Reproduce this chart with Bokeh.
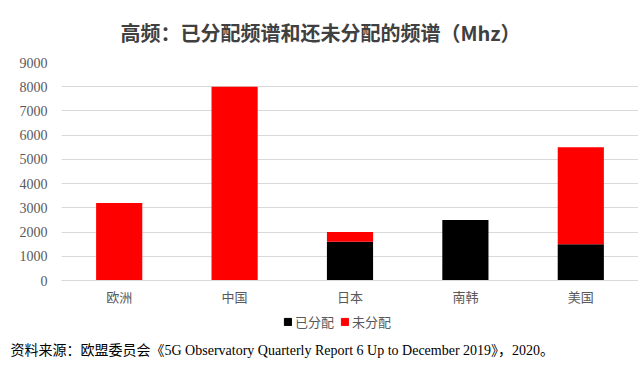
from bokeh.plotting import figure
from bokeh.models import Range1d, FactorRange, Legend, LegendItem, Label, FixedTicker
from bokeh.layouts import column
from bokeh.embed import file_html
from bokeh.resources import INLINE

regions = ["欧洲", "中国", "日本", "南韩", "美国"]
allocated = [0, 0, 1600, 2500, 1500]
unallocated = [3200, 8000, 400, 0, 4000]
y_ticks = [0, 1000, 2000, 3000, 4000, 5000, 6000, 7000, 8000, 9000]
series = ["已分配", "未分配"]
colors = ["#000000", "#ff0000"]
title_text = "高频：已分配频谱和还未分配的频谱（Mhz）"
source_text = "资料来源：欧盟委员会《5G Observatory Quarterly Report 6 Up to December 2019》，2020。"

data = {"region": regions, "已分配": allocated, "未分配": unallocated}

p = figure(width=638, height=310, output_backend="svg", toolbar_location=None,
           x_range=FactorRange(*regions), y_range=Range1d(0, 9000),
           min_border_left=61, min_border_right=0, min_border_top=62, min_border_bottom=30)
p.outline_line_color = None
p.frame_align = False

rs = p.vbar_stack(series, x="region", width=0.4, color=colors, source=data, line_color=None)

p.yaxis.ticker = FixedTicker(ticks=y_ticks)
p.yaxis.axis_line_color = None
p.yaxis.major_tick_line_color = None
p.yaxis.minor_tick_line_color = None
p.yaxis.major_label_standoff = 8
p.yaxis.major_label_text_font = "Liberation Serif"
p.yaxis.major_label_text_font_size = "14px"
p.yaxis.major_label_text_color = "#595959"

p.xaxis.axis_line_color = "#d9d9d9"
p.xaxis.major_tick_line_color = None
p.xaxis.minor_tick_line_color = None
p.xaxis.major_label_standoff = 0
p.xaxis.major_label_text_font = "Noto Sans CJK SC"
p.xaxis.major_label_text_font_size = "13px"
p.xaxis.major_label_text_color = "#595959"

p.xgrid.grid_line_color = None
p.ygrid.grid_line_color = "#d9d9d9"

p.title.text = title_text
p.title.align = "left"
p.title.offset = 59
p.title.text_font = "Noto Sans CJK SC"
p.title.text_font_size = "20px"
p.title.text_font_style = "bold"
p.title.text_color = "#404040"
p.title.standoff = 31

# bottom strip: legend + source note
q = figure(width=638, height=56, output_backend="svg", toolbar_location=None,
           x_range=Range1d(0, 638), y_range=Range1d(0, 56),
           min_border_left=0, min_border_right=0, min_border_top=0, min_border_bottom=0)
q.frame_align = False
q.axis.visible = False
q.grid.visible = False
q.outline_line_color = None
dummy = [q.rect(x=[-100], y=[-100], width=1, height=1, color=c) for c in colors]

legend = Legend(items=[LegendItem(label=s, renderers=[r]) for s, r in zip(series, dummy)],
                orientation="horizontal", location=(283, 35),
                glyph_width=9, glyph_height=9, spacing=6, padding=0, margin=0,
                label_text_font="Noto Sans CJK SC", label_text_font_size="13px",
                label_text_color="#595959", label_standoff=3,
                border_line_color=None, background_fill_alpha=0)
q.add_layout(legend)

q.add_layout(Label(x=10, y=16, text=source_text, text_align="left", text_baseline="middle",
                   text_font="Liberation Serif, Noto Sans CJK SC",
                   text_font_size="14px", text_color="#000000"))

layout = column(p, q, spacing=0)
open("out.html", "w").write(file_html(layout, INLINE))
